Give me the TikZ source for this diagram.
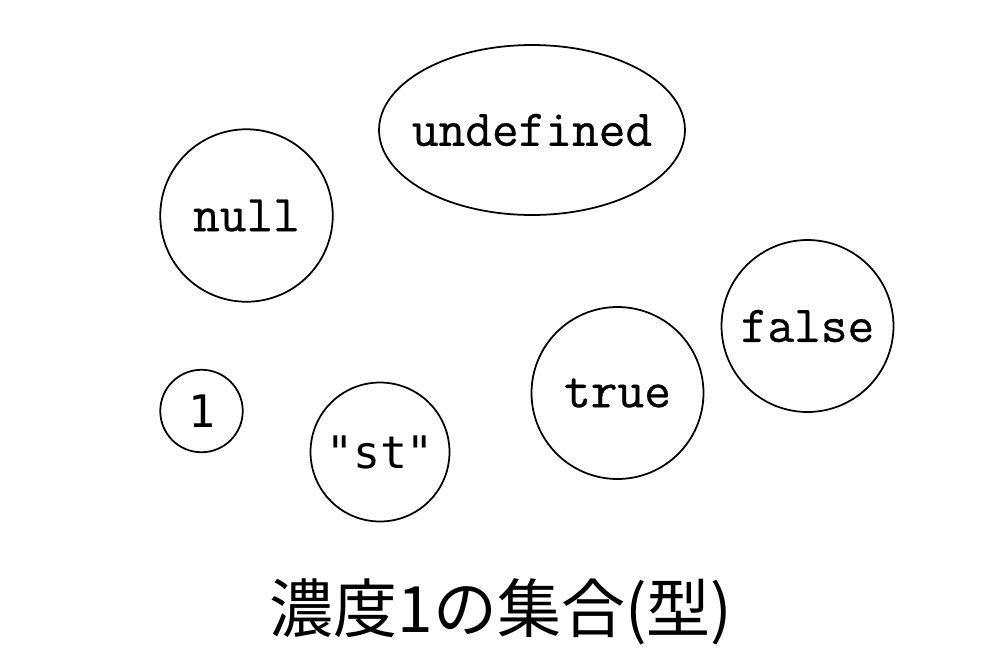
\documentclass[tikz,border=0pt]{standalone}
\usepackage{fontspec}
\newfontfamily\cjk{Noto Sans CJK JP}
\newfontfamily\sansmono{DejaVu Sans Mono}
\newfontfamily\serifmono[FakeBold=0.6]{Latin Modern Mono}
\usetikzlibrary{shapes.geometric}
\tikzset{
    elem/.style={draw,line width=1pt,circle,inner sep=0pt,
        font=\fontsize{29.5}{32}\selectfont\serifmono},
    elemsans/.style={elem,font=\fontsize{25.5}{28}\selectfont\sansmono}
}
\begin{document}
\begin{tikzpicture}[x=0.02cm,y=-0.02cm]
    \useasboundingbox (0,0) rectangle (1000,667);
    
    % Elements of the set
    \node[elem,ellipse,inner xsep=-0.3cm,minimum width=6.12cm,minimum height=3.4cm] (undef) at (532,130) {undefined};
    \node[elem,minimum size=3.45cm] (null) at (246.5,215.5) {null};
    \node[elem,minimum size=3.44cm] (false) at (807.5,326) {false};
    \node[elem,minimum size=3.44cm] (true) at (617.5,393) {true};
    \node[elemsans,minimum size=1.65cm] (one) at (201.5,411) {1};
    \node[elemsans,minimum size=2.78cm] (str) at (380,452) {"st"};
    
    % Caption
    \node[font=\fontsize{36.4}{42}\selectfont\cjk] (title) at (501,612) {濃度1の集合(型)};
\end{tikzpicture}
\end{document}
